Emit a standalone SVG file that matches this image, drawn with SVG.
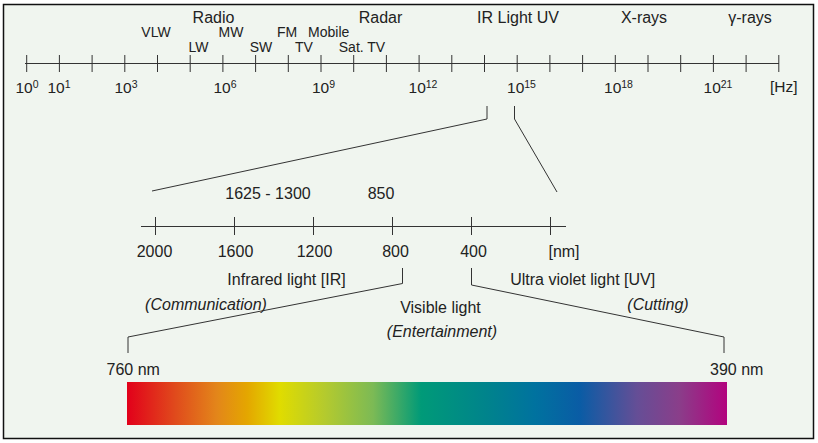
<svg xmlns="http://www.w3.org/2000/svg" width="818" height="443" viewBox="0 0 818 443">
<style>
text{font-family:"Liberation Sans",Arial,sans-serif;fill:#222}
.big{font-size:16px;text-anchor:middle}
.sm{font-size:14px;text-anchor:middle}
.ax{font-size:15.5px;text-anchor:middle}
.sup{font-size:10.5px}
.mid{font-size:16px;text-anchor:middle}
.it{font-style:italic}
.ln{stroke:#333;stroke-width:1;fill:none}
.tk{stroke:#333;stroke-width:1}
</style>
<defs>
<linearGradient id="spec" x1="0" y1="0" x2="1" y2="0">
<stop offset="0" stop-color="#e2001a"/>
<stop offset="0.08" stop-color="#e04a1c"/>
<stop offset="0.15" stop-color="#e3861a"/>
<stop offset="0.2" stop-color="#e4a600"/>
<stop offset="0.255" stop-color="#e0dc00"/>
<stop offset="0.33" stop-color="#b4ca2e"/>
<stop offset="0.41" stop-color="#7cba55"/>
<stop offset="0.49" stop-color="#009a78"/>
<stop offset="0.6" stop-color="#00838c"/>
<stop offset="0.68" stop-color="#00729f"/>
<stop offset="0.755" stop-color="#0a5ca5"/>
<stop offset="0.85" stop-color="#654e96"/>
<stop offset="0.92" stop-color="#8a3e8a"/>
<stop offset="1" stop-color="#b2037e"/>
</linearGradient>
</defs>
<rect x="0" y="0" width="818" height="443" fill="#ffffff"/>
<rect id="frame" x="3.5" y="4.5" width="810" height="434" fill="#f0f5ef" stroke="#111" stroke-width="1.5"/>

<g id="top-axis">
<line class="ln" x1="25" y1="63.5" x2="779" y2="63.5"/>
<g class="tk">
<line x1="26.7" y1="55" x2="26.7" y2="72"/>
<line x1="59.4" y1="55" x2="59.4" y2="72"/>
<line x1="92.1" y1="55" x2="92.1" y2="72"/>
<line x1="124.8" y1="55" x2="124.8" y2="72"/>
<line x1="157.5" y1="55" x2="157.5" y2="72"/>
<line x1="190.2" y1="55" x2="190.2" y2="72"/>
<line x1="222.9" y1="55" x2="222.9" y2="72"/>
<line x1="255.6" y1="55" x2="255.6" y2="72"/>
<line x1="288.3" y1="55" x2="288.3" y2="72"/>
<line x1="321" y1="55" x2="321" y2="72"/>
<line x1="353.7" y1="55" x2="353.7" y2="72"/>
<line x1="386.4" y1="55" x2="386.4" y2="72"/>
<line x1="419.1" y1="55" x2="419.1" y2="72"/>
<line x1="451.8" y1="55" x2="451.8" y2="72"/>
<line x1="484.5" y1="55" x2="484.5" y2="72"/>
<line x1="517.2" y1="55" x2="517.2" y2="72"/>
<line x1="549.9" y1="55" x2="549.9" y2="72"/>
<line x1="582.6" y1="55" x2="582.6" y2="72"/>
<line x1="615.3" y1="55" x2="615.3" y2="72"/>
<line x1="648" y1="55" x2="648" y2="72"/>
<line x1="680.7" y1="55" x2="680.7" y2="72"/>
<line x1="713.4" y1="55" x2="713.4" y2="72"/>
<line x1="746.1" y1="55" x2="746.1" y2="72"/>
<line x1="778.8" y1="55" x2="778.8" y2="72"/>
</g>
<text class="ax" x="27" y="93">10<tspan class="sup" dy="-5">0</tspan></text>
<text class="ax" x="59" y="93">10<tspan class="sup" dy="-5">1</tspan></text>
<text class="ax" x="126" y="93">10<tspan class="sup" dy="-5">3</tspan></text>
<text class="ax" x="225" y="93">10<tspan class="sup" dy="-5">6</tspan></text>
<text class="ax" x="323.5" y="93">10<tspan class="sup" dy="-5">9</tspan></text>
<text class="ax" x="423" y="93">10<tspan class="sup" dy="-5">12</tspan></text>
<text class="ax" x="521.5" y="93">10<tspan class="sup" dy="-5">15</tspan></text>
<text class="ax" x="618.5" y="93">10<tspan class="sup" dy="-5">18</tspan></text>
<text class="ax" x="718" y="93">10<tspan class="sup" dy="-5">21</tspan></text>
<text class="ax" x="770" y="92" style="text-anchor:start">[Hz]</text>
</g>

<g id="band-labels">
<text class="big" x="213.5" y="23">Radio</text>
<text class="big" x="380.5" y="23">Radar</text>
<text class="big" x="518" y="23">IR Light UV</text>
<text class="big" x="644" y="23">X-rays</text>
<text class="big" x="750" y="23">γ-rays</text>
<text class="sm" x="156" y="37">VLW</text>
<text class="sm" x="231" y="37">MW</text>
<text class="sm" x="198.5" y="52">LW</text>
<text class="sm" x="261" y="52">SW</text>
<text class="sm" x="287" y="37">FM</text>
<text class="sm" x="304" y="52">TV</text>
<text class="sm" x="328.7" y="37">Mobile</text>
<text class="sm" x="362" y="52">Sat. TV</text>
</g>

<g id="connectors">
<polyline class="ln" points="487,106 487,119 152,191"/>
<polyline class="ln" points="514.5,106 514.5,119 557,192"/>
<polyline class="ln" points="402.5,268 402.5,283.5 128,337 128,353"/>
<polyline class="ln" points="471.5,268 471.5,285 724,337 724,353"/>
</g>

<g id="nm-axis">
<line class="ln" x1="141" y1="226.5" x2="566" y2="226.5"/>
<g class="tk">
<line x1="155.5" y1="217" x2="155.5" y2="235"/>
<line x1="234.5" y1="217" x2="234.5" y2="235"/>
<line x1="313.5" y1="217" x2="313.5" y2="235"/>
<line x1="392.5" y1="217" x2="392.5" y2="235"/>
<line x1="471.5" y1="217" x2="471.5" y2="235"/>
<line x1="550.5" y1="217" x2="550.5" y2="235"/>
</g>
<text class="mid" x="268" y="199">1625 - 1300</text>
<text class="mid" x="381" y="199">850</text>
<text class="mid" x="154.5" y="256.5">2000</text>
<text class="mid" x="235.5" y="256.5">1600</text>
<text class="mid" x="314.5" y="256.5">1200</text>
<text class="mid" x="395.5" y="256.5">800</text>
<text class="mid" x="473.5" y="256.5">400</text>
<text class="mid" x="564" y="256.5">[nm]</text>
</g>

<g id="region-labels">
<text class="mid" x="286.5" y="284.5">Infrared light [IR]</text>
<text class="mid" x="582.7" y="284.5">Ultra violet light [UV]</text>
<text class="mid it" x="206" y="309.5">(Communication)</text>
<text class="mid" x="440.5" y="312.5">Visible light</text>
<text class="mid it" x="442" y="336.5">(Entertainment)</text>
<text class="mid it" x="658" y="310">(Cutting)</text>
<text class="mid" x="106.5" y="374.5" style="text-anchor:start">760 nm</text>
<text class="mid" x="710" y="374.5" style="text-anchor:start">390 nm</text>
</g>

<g id="spectrum">
<rect x="127" y="382" width="600" height="43" fill="url(#spec)"/>
</g>
</svg>
